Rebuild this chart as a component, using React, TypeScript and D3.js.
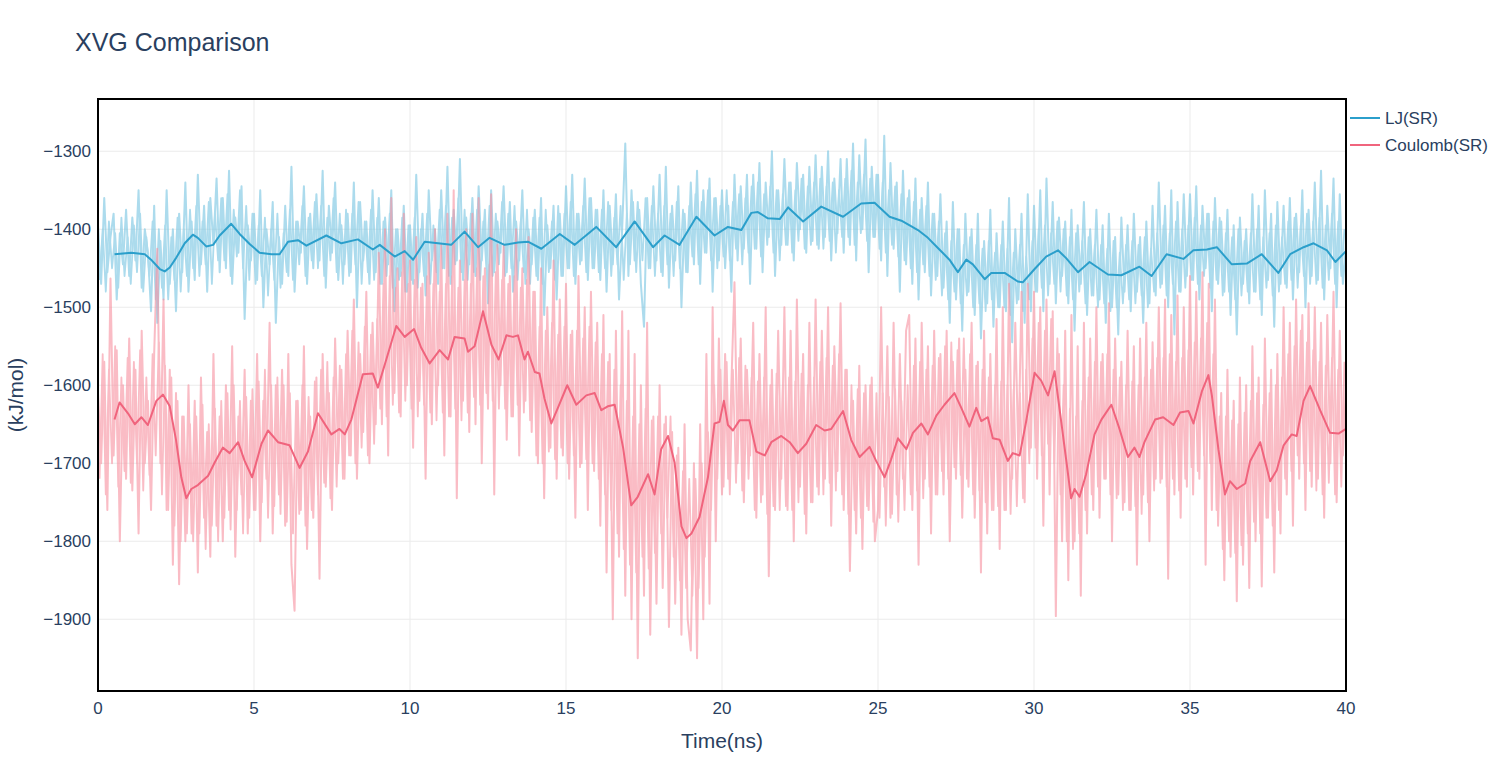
import React from 'react'
import * as d3 from 'd3'

// raw energies: series A sampled at 0.0, 0.1, ... 40.0 ns, series B at 0.05, 0.15, ... 39.95 ns
const rawStep = 0.1

const ljRaw = [
  -1395, -1470, -1360, -1455, -1410, -1380, -1490, -1405, -1445, -1375,
  -1460, -1385, -1440, -1350, -1475, -1400, -1430, -1505, -1370, -1520,
  -1415, -1490, -1350, -1470, -1400, -1505, -1380, -1455, -1340, -1480,
  -1390, -1465, -1330, -1445, -1370, -1480, -1360, -1420, -1335, -1455,
  -1360, -1450, -1325, -1470, -1385, -1430, -1345, -1515, -1395, -1440,
  -1380, -1465, -1350, -1500, -1400, -1445, -1365, -1520, -1410, -1470,
  -1370, -1460, -1320, -1480, -1390, -1430, -1345, -1470, -1380, -1450,
  -1355, -1440, -1325, -1475, -1370, -1430, -1340, -1465, -1395, -1445,
  -1380, -1455, -1340, -1500, -1365, -1440, -1390, -1470, -1350, -1455,
  -1360, -1470, -1385, -1445, -1350, -1505, -1400, -1460, -1370, -1480,
  -1395, -1470, -1330, -1455, -1380, -1485, -1350, -1440, -1400, -1470,
  -1350, -1450, -1320, -1470, -1375, -1440, -1310, -1465, -1385, -1445,
  -1360, -1460, -1345, -1440, -1375, -1495, -1350, -1455, -1390, -1430,
  -1345, -1455, -1365, -1480, -1390, -1440, -1350, -1470, -1400, -1445,
  -1375, -1465, -1360, -1510, -1395, -1450, -1370, -1490, -1380, -1460,
  -1345, -1450, -1330, -1470, -1380, -1440, -1335, -1465, -1360, -1450,
  -1375, -1465, -1350, -1480, -1370, -1445, -1355, -1490, -1400, -1290,
  -1460, -1350, -1440, -1365, -1470, -1525, -1360, -1450, -1345, -1440,
  -1330, -1460, -1320, -1475, -1370, -1440, -1345, -1500, -1380, -1455,
  -1340, -1445, -1325, -1470, -1350, -1430, -1335, -1480, -1360, -1440,
  -1350, -1450, -1370, -1480, -1330, -1440, -1345, -1425, -1330, -1470,
  -1330, -1425, -1315, -1455, -1340, -1410, -1300, -1460, -1350, -1420,
  -1310, -1420, -1340, -1440, -1315, -1400, -1330, -1430, -1320, -1415,
  -1305, -1425, -1320, -1410, -1300, -1440, -1335, -1405, -1310, -1430,
  -1310, -1420, -1290, -1440, -1305, -1400, -1285, -1455, -1320, -1410,
  -1330, -1440, -1280, -1460, -1315, -1425, -1340, -1480, -1325, -1445,
  -1350, -1470, -1335, -1490, -1360, -1455, -1340, -1485, -1380, -1460,
  -1355, -1475, -1390, -1520, -1365, -1490, -1400, -1530, -1380, -1480,
  -1400, -1510, -1380, -1540, -1415, -1495, -1375, -1525, -1405, -1500,
  -1390, -1505, -1360, -1545, -1400, -1490, -1380, -1520, -1355, -1505,
  -1370, -1480, -1350, -1505, -1335, -1470, -1365, -1495, -1385, -1460,
  -1390, -1495, -1375, -1530, -1395, -1470, -1365, -1510, -1400, -1485,
  -1375, -1490, -1395, -1520, -1380, -1500, -1410, -1535, -1385, -1480,
  -1395, -1505, -1380, -1480, -1410, -1520, -1390, -1495, -1370, -1485,
  -1340, -1470, -1370, -1500, -1350, -1535, -1365, -1480, -1355, -1460,
  -1355, -1465, -1345, -1490, -1370, -1450, -1380, -1505, -1360, -1470,
  -1390, -1480, -1375, -1510, -1395, -1535, -1385, -1470, -1400, -1495,
  -1355, -1480, -1370, -1510, -1350, -1465, -1380, -1525, -1365, -1470,
  -1370, -1475, -1360, -1490, -1380, -1455, -1350, -1500, -1375, -1460,
  -1340, -1465, -1325, -1490, -1370, -1450, -1335, -1500, -1355, -1470,
  -1420
]

const ljRawB = [
  -1465, -1400, -1480, -1390, -1450, -1405, -1475, -1385, -1460, -1410,
  -1470, -1395, -1455, -1380, -1480, -1410, -1460, -1390, -1490, -1400,
  -1475, -1395, -1490, -1410, -1465, -1385, -1480, -1400, -1460, -1375,
  -1450, -1370, -1460, -1390, -1445, -1365, -1470, -1380, -1440, -1360,
  -1440, -1355, -1460, -1375, -1435, -1350, -1450, -1370, -1465, -1380,
  -1470, -1395, -1460, -1385, -1485, -1400, -1465, -1380, -1475, -1405,
  -1455, -1375, -1465, -1390, -1445, -1370, -1460, -1385, -1440, -1365,
  -1450, -1370, -1460, -1385, -1440, -1360, -1455, -1380, -1470, -1375,
  -1460, -1380, -1445, -1365, -1470, -1390, -1455, -1375, -1465, -1385,
  -1470, -1390, -1460, -1380, -1475, -1400, -1465, -1385, -1480, -1395,
  -1465, -1385, -1475, -1400, -1460, -1380, -1470, -1395, -1455, -1375,
  -1450, -1370, -1460, -1385, -1445, -1360, -1455, -1375, -1465, -1380,
  -1455, -1375, -1465, -1390, -1450, -1370, -1460, -1380, -1445, -1365,
  -1460, -1380, -1450, -1370, -1465, -1390, -1455, -1375, -1470, -1385,
  -1460, -1385, -1470, -1375, -1455, -1390, -1465, -1370, -1460, -1380,
  -1450, -1365, -1460, -1380, -1445, -1370, -1455, -1360, -1450, -1375,
  -1455, -1375, -1450, -1365, -1460, -1385, -1445, -1370, -1465, -1380,
  -1445, -1365, -1455, -1375, -1440, -1360, -1450, -1370, -1460, -1380,
  -1455, -1370, -1445, -1380, -1460, -1365, -1450, -1375, -1455, -1370,
  -1435, -1355, -1445, -1365, -1430, -1350, -1440, -1360, -1450, -1370,
  -1435, -1350, -1440, -1365, -1425, -1355, -1445, -1360, -1430, -1345,
  -1425, -1340, -1435, -1355, -1420, -1345, -1430, -1350, -1440, -1355,
  -1420, -1340, -1430, -1350, -1415, -1335, -1425, -1345, -1420, -1340,
  -1420, -1335, -1425, -1345, -1415, -1340, -1430, -1350, -1410, -1335,
  -1410, -1325, -1420, -1340, -1405, -1330, -1415, -1335, -1410, -1330,
  -1425, -1340, -1430, -1350, -1420, -1345, -1435, -1355, -1440, -1360,
  -1450, -1365, -1455, -1375, -1445, -1370, -1460, -1380, -1465, -1390,
  -1485, -1405, -1490, -1415, -1480, -1400, -1495, -1420, -1485, -1410,
  -1500, -1420, -1495, -1425, -1505, -1415, -1490, -1430, -1500, -1420,
  -1500, -1425, -1510, -1430, -1495, -1420, -1505, -1435, -1490, -1415,
  -1480, -1400, -1475, -1395, -1485, -1405, -1470, -1390, -1480, -1400,
  -1485, -1410, -1490, -1405, -1480, -1415, -1495, -1410, -1485, -1420,
  -1500, -1420, -1495, -1425, -1505, -1415, -1500, -1430, -1495, -1420,
  -1490, -1415, -1495, -1420, -1485, -1410, -1500, -1425, -1480, -1405,
  -1475, -1395, -1485, -1405, -1470, -1390, -1480, -1400, -1475, -1395,
  -1465, -1385, -1470, -1395, -1460, -1380, -1475, -1390, -1465, -1385,
  -1485, -1405, -1480, -1410, -1490, -1400, -1485, -1415, -1480, -1405,
  -1480, -1400, -1490, -1410, -1475, -1405, -1485, -1395, -1480, -1410,
  -1470, -1390, -1465, -1385, -1475, -1395, -1460, -1380, -1470, -1390,
  -1470, -1385, -1475, -1395, -1465, -1380, -1470, -1390, -1460, -1400
]

const coulRaw = [
  -1610, -1700, -1570, -1760, -1463, -1690, -1555, -1800, -1600, -1720,
  -1540, -1735, -1580, -1790, -1530, -1700, -1620, -1760, -1560, -1425,
  -1700, -1490, -1760, -1580, -1830, -1610, -1855, -1640, -1800, -1600,
  -1790, -1620, -1840, -1590, -1770, -1660, -1820, -1560, -1780, -1640,
  -1800, -1600, -1760, -1550, -1820, -1640, -1740, -1580, -1790, -1620,
  -1760, -1560, -1800, -1620, -1720, -1520, -1790, -1600, -1740, -1580,
  -1780, -1560, -1830, -1889, -1620, -1760, -1550, -1810, -1640, -1770,
  -1590, -1848, -1560, -1730, -1610, -1760, -1540, -1700, -1580, -1720,
  -1530, -1690, -1490, -1720, -1560, -1660, -1480, -1700, -1520, -1650,
  -1430, -1650, -1400, -1690, -1360, -1610, -1450, -1640, -1380, -1600,
  -1440, -1680, -1410, -1620, -1470, -1720, -1430, -1650, -1400, -1600,
  -1420, -1690, -1380, -1640, -1350, -1745, -1440, -1620, -1400, -1660,
  -1380, -1650, -1360, -1700, -1450, -1630, -1355, -1740, -1420, -1600,
  -1420, -1670, -1460, -1640, -1400, -1690, -1450, -1620, -1410, -1660,
  -1480, -1700, -1450, -1745, -1500, -1680, -1440, -1720, -1490, -1690,
  -1470, -1720, -1530, -1770, -1460, -1700, -1500, -1760, -1480, -1710,
  -1520, -1780, -1510, -1840, -1560, -1900, -1530, -1820, -1505, -1870,
  -1530, -1900, -1560, -1950, -1600, -1870, -1520, -1920, -1640, -1880,
  -1600, -1860, -1640, -1910, -1660, -1880, -1680, -1920, -1650, -1900,
  -1940, -1700, -1950, -1650, -1900, -1560, -1880, -1500, -1800, -1540,
  -1740, -1560, -1720, -1600, -1468, -1700, -1540, -1750, -1580, -1690,
  -1520, -1770, -1560, -1740, -1500, -1845, -1580, -1760, -1530, -1720,
  -1500, -1760, -1530, -1800, -1490, -1730, -1560, -1790, -1520, -1750,
  -1490, -1740, -1530, -1720, -1500, -1780, -1550, -1710, -1495, -1760,
  -1580, -1838, -1620, -1790, -1575, -1810, -1600, -1760, -1590, -1800,
  -1760, -1500, -1730, -1550, -1770, -1520, -1740, -1560, -1720, -1530,
  -1510, -1760, -1540, -1830, -1520, -1720, -1550, -1790, -1530, -1740,
  -1560, -1740, -1530, -1800, -1570, -1720, -1540, -1770, -1580, -1730,
  -1520, -1770, -1570, -1840, -1530, -1790, -1560, -1760, -1515, -1810,
  -1500, -1760, -1470, -1720, -1520, -1690, -1480, -1750, -1470, -1680,
  -1480, -1720, -1500, -1780, -1490, -1740, -1505, -1896, -1560, -1800,
  -1530, -1850, -1510, -1800, -1550, -1870, -1520, -1790, -1540, -1760,
  -1500, -1770, -1560, -1720, -1495, -1800, -1540, -1740, -1570, -1750,
  -1530, -1760, -1550, -1830, -1540, -1740, -1520, -1800, -1545, -1720,
  -1500, -1720, -1490, -1848, -1510, -1740, -1485, -1770, -1500, -1730,
  -1460, -1740, -1480, -1720, -1455, -1830, -1470, -1760, -1490, -1780,
  -1610, -1850, -1580, -1820, -1620, -1877, -1590, -1830, -1600, -1860,
  -1550, -1800, -1590, -1858, -1540, -1770, -1580, -1840, -1560, -1790,
  -1500, -1740, -1520, -1780, -1490, -1720, -1510, -1760, -1495, -1730,
  -1500, -1720, -1520, -1770, -1510, -1700, -1480, -1750, -1530, -1690,
  -1600
]

const coulRawB = [
  -1720, -1560, -1740, -1580, -1700, -1550, -1730, -1590, -1710, -1565,
  -1725, -1570, -1700, -1555, -1735, -1590, -1715, -1560, -1690, -1545,
  -1740, -1575, -1760, -1590, -1780, -1620, -1800, -1640, -1790, -1650,
  -1800, -1640, -1790, -1625, -1810, -1650, -1780, -1630, -1800, -1620,
  -1770, -1610, -1785, -1600, -1760, -1620, -1790, -1615, -1770, -1605,
  -1760, -1595, -1750, -1580, -1770, -1600, -1755, -1590, -1765, -1600,
  -1775, -1610, -1790, -1620, -1765, -1600, -1780, -1615, -1760, -1595,
  -1740, -1580, -1725, -1570, -1745, -1590, -1730, -1575, -1720, -1560,
  -1690, -1530, -1700, -1545, -1680, -1525, -1690, -1535, -1675, -1515,
  -1630, -1470, -1640, -1460, -1625, -1475, -1635, -1455, -1620, -1470,
  -1630, -1465, -1640, -1475, -1625, -1460, -1635, -1470, -1645, -1480,
  -1635, -1470, -1640, -1460, -1630, -1475, -1645, -1465, -1635, -1470,
  -1615, -1450, -1625, -1460, -1610, -1445, -1620, -1455, -1630, -1465,
  -1630, -1470, -1640, -1460, -1625, -1475, -1635, -1465, -1645, -1480,
  -1690, -1525, -1700, -1530, -1685, -1520, -1695, -1535, -1680, -1525,
  -1700, -1535, -1690, -1530, -1705, -1540, -1695, -1525, -1700, -1545,
  -1720, -1560, -1740, -1570, -1760, -1580, -1790, -1600, -1810, -1620,
  -1830, -1640, -1840, -1650, -1820, -1630, -1835, -1645, -1815, -1640,
  -1790, -1650, -1770, -1640, -1820, -1690, -1850, -1710, -1860, -1720,
  -1870, -1720, -1860, -1700, -1820, -1660, -1760, -1600, -1720, -1580,
  -1730, -1570, -1740, -1580, -1725, -1565, -1735, -1575, -1720, -1590,
  -1760, -1595, -1750, -1590, -1765, -1600, -1755, -1585, -1760, -1600,
  -1755, -1590, -1760, -1595, -1750, -1585, -1765, -1600, -1750, -1590,
  -1730, -1570, -1740, -1565, -1725, -1575, -1735, -1560, -1740, -1580,
  -1765, -1600, -1760, -1605, -1770, -1610, -1755, -1600, -1775, -1610,
  -1770, -1610, -1780, -1615, -1765, -1605, -1775, -1620, -1760, -1600,
  -1740, -1575, -1735, -1570, -1745, -1580, -1730, -1575, -1740, -1565,
  -1710, -1550, -1720, -1545, -1705, -1555, -1715, -1540, -1720, -1560,
  -1740, -1575, -1735, -1580, -1750, -1590, -1760, -1600, -1755, -1595,
  -1760, -1600, -1765, -1605, -1755, -1610, -1745, -1580, -1700, -1540,
  -1680, -1520, -1690, -1530, -1675, -1515, -1700, -1540, -1740, -1600,
  -1800, -1630, -1810, -1640, -1790, -1620, -1760, -1590, -1740, -1570,
  -1730, -1570, -1720, -1560, -1740, -1580, -1745, -1590, -1760, -1600,
  -1760, -1595, -1755, -1600, -1765, -1590, -1750, -1580, -1735, -1565,
  -1725, -1565, -1730, -1560, -1720, -1570, -1735, -1565, -1720, -1555,
  -1705, -1545, -1710, -1540, -1690, -1520, -1700, -1560, -1760, -1640,
  -1810, -1640, -1800, -1645, -1815, -1650, -1805, -1635, -1790, -1620,
  -1775, -1610, -1790, -1625, -1770, -1610, -1780, -1600, -1760, -1590,
  -1720, -1560, -1710, -1550, -1690, -1530, -1700, -1545, -1710, -1555,
  -1735, -1570, -1740, -1575, -1725, -1565, -1740, -1580, -1730, -1570
]

// running averages (time in ns, value in kJ/mol)
const ljSmoothTime = [
  0.53, 1.07, 1.5, 1.7, 1.98, 2.14, 2.3, 2.5, 2.78, 3.04, 3.2, 3.47, 3.69, 3.9, 4.27, 4.54, 4.86, 5.18, 5.56, 5.82, 6.09, 6.41, 6.68,
  7.32, 7.8, 8.33, 8.81, 9.03, 9.51, 9.83, 10.1, 10.47, 10.9, 11.32, 11.75, 12.18, 12.55, 13.03, 13.46,
  13.78, 14.21, 14.8, 15.28, 15.97, 16.61, 17.2, 17.79, 18.16, 18.64, 19.18, 19.76, 20.19,
  20.62, 20.94, 21.15, 21.47, 21.85, 22.12, 22.6, 23.18, 23.88, 24.46, 24.89, 25.37, 25.75, 26.28, 26.6, 26.92,
  27.29, 27.56, 27.83, 28.04, 28.42, 28.63, 29.06, 29.48, 29.64, 30.02, 30.39, 30.77, 31.03, 31.41, 31.78, 32.37, 32.8, 33.38,
  33.77, 34.25, 34.79, 35.11, 35.54, 35.86, 36.34, 36.82, 37.3, 37.83, 38.21, 38.64, 38.96, 39.39, 39.66, 40.0
]
const ljSmooth = [
  -1432, -1430, -1432, -1439, -1451, -1454, -1449, -1437, -1418, -1407, -1411, -1422, -1420, -1408, -1393, -1406, -1419, -1430, -1432, -1432, -1416, -1414, -1421,
  -1408, -1418, -1413, -1426, -1420, -1435, -1428, -1439, -1416, -1418, -1420, -1403, -1423, -1411, -1420, -1417,
  -1416, -1425, -1406, -1420, -1397, -1423, -1390, -1423, -1408, -1420, -1384, -1408, -1397,
  -1401, -1379, -1378, -1386, -1387, -1372, -1390, -1371, -1384, -1367, -1366, -1384, -1389, -1401, -1411, -1424,
  -1439, -1455, -1439, -1445, -1464, -1456, -1456, -1467, -1468, -1451, -1435, -1427, -1437, -1455, -1442, -1458, -1459, -1448,
  -1460, -1432, -1438, -1427, -1426, -1423, -1445, -1444, -1432, -1456, -1432, -1423, -1418, -1427, -1442, -1428
]

const coulSmoothTime = [
  0.53, 0.69, 0.96, 1.18, 1.39, 1.6, 1.87, 2.08, 2.3, 2.5, 2.67, 2.83, 2.99, 3.2, 3.53, 3.74, 4.0, 4.22, 4.49, 4.7, 4.94, 5.24, 5.45, 5.77, 6.14, 6.46, 6.73,
  7.05, 7.48, 7.74, 7.91, 8.12, 8.49, 8.81, 8.97, 9.24, 9.56, 9.83, 10.13, 10.36, 10.63, 10.95, 11.22, 11.43, 11.75, 11.86, 12.07, 12.34, 12.61, 12.84, 13.09, 13.3, 13.46,
  13.67, 13.78, 14.0, 14.15, 14.31, 14.53, 14.74, 15.04, 15.33, 15.65, 15.92, 16.13, 16.34, 16.56, 16.83, 17.09, 17.3, 17.63, 17.84, 18.05, 18.27, 18.48, 18.7, 18.86, 19.02, 19.28, 19.55, 19.76, 19.92, 20.06, 20.19,
  20.35, 20.56, 20.88, 21.1, 21.37, 21.58, 21.9, 22.17, 22.43, 22.7, 23.02, 23.29, 23.5, 23.88, 24.14, 24.41, 24.73, 24.94, 25.21, 25.42, 25.64, 25.91, 26.12, 26.39, 26.6, 26.87,
  27.13, 27.45, 27.67, 27.93, 28.15, 28.31, 28.52, 28.68, 28.9, 29.16, 29.32, 29.54, 29.75, 30.02, 30.23, 30.45, 30.66, 30.87, 31.03, 31.19, 31.3, 31.46, 31.67, 31.94, 32.16, 32.48, 32.74, 33.01, 33.22, 33.38, 33.54,
  33.88, 34.14, 34.47, 34.68, 34.95, 35.11, 35.38, 35.59, 35.7, 35.91, 36.12, 36.28, 36.5, 36.77, 36.93, 37.25, 37.57, 37.78, 38.0, 38.26, 38.42, 38.64, 38.85, 39.17, 39.49, 39.76, 40.0
]
const coulSmooth = [
  -1644, -1622, -1636, -1650, -1641, -1651, -1620, -1612, -1627, -1670, -1718, -1745, -1733, -1728, -1716, -1699, -1680, -1687, -1673, -1697, -1718, -1675, -1658, -1673, -1677, -1706, -1685,
  -1636, -1663, -1656, -1663, -1644, -1586, -1585, -1603, -1567, -1524, -1538, -1528, -1552, -1572, -1555, -1567, -1538, -1540, -1557, -1550, -1505, -1548, -1567, -1536, -1538, -1536,
  -1567, -1557, -1583, -1585, -1617, -1649, -1629, -1600, -1625, -1613, -1610, -1632, -1627, -1625, -1680, -1754, -1743, -1714, -1740, -1682, -1665, -1699, -1781, -1796, -1790, -1769, -1718, -1649, -1647, -1620, -1651,
  -1658, -1645, -1645, -1685, -1690, -1673, -1665, -1673, -1687, -1675, -1651, -1658, -1656, -1633, -1670, -1692, -1679, -1697, -1718, -1695, -1668, -1682, -1661, -1649, -1663, -1639,
  -1625, -1610, -1629, -1653, -1629, -1646, -1641, -1668, -1670, -1697, -1687, -1690, -1646, -1584, -1594, -1613, -1582, -1646, -1695, -1745, -1733, -1743, -1714, -1663, -1644, -1625, -1656, -1692, -1680, -1692, -1673,
  -1644, -1641, -1651, -1635, -1633, -1649, -1608, -1587, -1613, -1682, -1740, -1723, -1733, -1726, -1697, -1673, -1723, -1709, -1677, -1663, -1665, -1620, -1601, -1632, -1661, -1662, -1656
]

const xTicks = [0, 5, 10, 15, 20, 25, 30, 35, 40]
const yTicks = [-1300, -1400, -1500, -1600, -1700, -1800, -1900]
const seriesNames = ['LJ(SR)', 'Coulomb(SR)']

const W = 1512
const H = 771
const margin = { left: 98, right: 166, top: 99, bottom: 80 }
const font = '"Liberation Sans", Arial, sans-serif'
const textColor = '#2a3f5f'

export default function App() {
  const x = d3.scaleLinear().domain([0, 40]).range([margin.left, W - margin.right])
  const y = d3.scaleLinear().domain([-1992, -1233]).range([H - margin.bottom, margin.top])

  const rawLine = (offset: number) => d3.line<number>()
    .x((d, i) => x(offset + i * rawStep))
    .y(d => y(d))

  const smoothLine = (times: number[]) => d3.line<number>()
    .x((d, i) => x(times[i]))
    .y(d => y(d))

  const fmt = d3.format('')
  const pw = W - margin.right - margin.left
  const ph = H - margin.bottom - margin.top

  return (
    <svg width={W} height={H} style={{ position: 'absolute', left: 0, top: 0, display: 'block', background: '#fff' }}>
      <defs>
        <clipPath id="plotclip">
          <rect x={margin.left} y={margin.top} width={pw} height={ph} />
        </clipPath>
      </defs>

      {/* grid */}
      <g>
        {xTicks.map(t => (
          <line key={'gx' + t} x1={x(t)} x2={x(t)} y1={margin.top} y2={H - margin.bottom} stroke="#ebebeb" strokeWidth={1} />
        ))}
        {yTicks.map(t => (
          <line key={'gy' + t} x1={margin.left} x2={W - margin.right} y1={y(t)} y2={y(t)} stroke="#ebebeb" strokeWidth={1} />
        ))}
      </g>

      {/* data */}
      <g clipPath="url(#plotclip)">
        <g opacity={0.64}>
          <path d={rawLine(0)(ljRaw) || ''} fill="none" stroke="#7ec8e3" strokeWidth={2} strokeLinejoin="round" />
          <path d={rawLine(0.05)(ljRawB) || ''} fill="none" stroke="#7ec8e3" strokeWidth={1.8} strokeLinejoin="round" />
        </g>
        <g opacity={0.6}>
          <path d={rawLine(0)(coulRaw) || ''} fill="none" stroke="#f7909f" strokeWidth={2} strokeLinejoin="round" />
          <path d={rawLine(0.05)(coulRawB) || ''} fill="none" stroke="#f7909f" strokeWidth={1.8} strokeLinejoin="round" />
        </g>
        <path d={smoothLine(ljSmoothTime)(ljSmooth) || ''} fill="none" stroke="#2b9fcb" strokeWidth={2} strokeLinejoin="round" />
        <path d={smoothLine(coulSmoothTime)(coulSmooth) || ''} fill="none" stroke="#f0647d" strokeWidth={2} strokeLinejoin="round" />
      </g>

      {/* frame */}
      <rect x={margin.left} y={margin.top} width={pw} height={ph} fill="none" stroke="#000" strokeWidth={2} />

      {/* ticks */}
      <g fontFamily={font} fontSize={17} fill={textColor}>
        {xTicks.map(t => (
          <text key={'tx' + t} x={x(t)} y={H - margin.bottom + 23} textAnchor="middle">{fmt(t)}</text>
        ))}
        {yTicks.map(t => (
          <text key={'ty' + t} x={margin.left - 7} y={y(t)} dy="0.35em" textAnchor="end">{fmt(t)}</text>
        ))}
      </g>

      {/* titles */}
      <text x={75} y={51} fontFamily={font} fontSize={25} fill={textColor}>XVG Comparison</text>
      <text x={x(20)} y={748} fontFamily={font} fontSize={21} fill={textColor} textAnchor="middle">Time(ns)</text>
      <text transform={`translate(23, ${margin.top + ph / 2}) rotate(-90)`} fontFamily={font} fontSize={21} fill={textColor} textAnchor="middle">(kJ/mol)</text>

      {/* legend */}
      <g fontFamily={font} fontSize={17} fill={textColor}>
        {seriesNames.map((name, i) => (
          <g key={name} transform={`translate(1350, ${118 + i * 27})`}>
            <line x1={0} x2={30} y1={0} y2={0} stroke={i === 0 ? '#2b9fcb' : '#f0647d'} strokeWidth={2} />
            <text x={35} y={0} dy="0.35em">{name}</text>
          </g>
        ))}
      </g>
    </svg>
  )
}
